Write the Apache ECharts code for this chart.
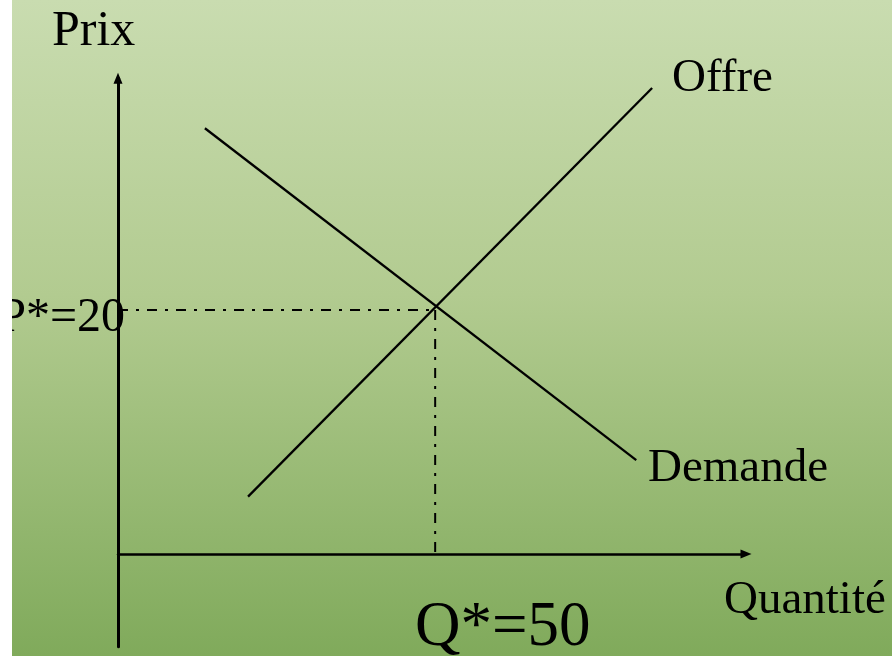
<!DOCTYPE html>
<html>
<head>
<meta charset="utf-8">
<script src="https://cdn.jsdelivr.net/npm/echarts@6/dist/echarts.min.js"></script>
<style>
html,body{margin:0;padding:0;background:#fff;}
#wrap{position:relative;width:892px;height:656px;overflow:hidden;}
#bg{position:absolute;left:12px;top:0;width:880px;height:656px;background:linear-gradient(to bottom,#c9dcb0 0%,#b2cb90 45%,#80aa5b 100%);}
#chart{position:absolute;left:0;top:0;width:892px;height:656px;}
#mask{position:absolute;left:0;top:0;width:12px;height:656px;background:#fff;z-index:10;}
</style>
</head>
<body>
<div id="wrap"><div id="bg"></div><div id="chart"></div><div id="mask"></div></div>
<script>
// Data
var supplyQ = [20.5, 84.2];
var supplyP = [4.7, 38.2];
var demandQ = [13.7, 81.7];
var demandP = [34.9, 7.7];
var eqQ = 50;
var eqP = 20;
var labelPrix = 'Prix';
var labelQuantite = 'Quantité';
var labelOffre = 'Offre';
var labelDemande = 'Demande';
var labelP = 'P*=' + eqP;
var labelQ = 'Q*=' + eqQ;

function zip(a, b) { return a.map(function (v, i) { return [v, b[i]]; }); }

var chart = echarts.init(document.getElementById('chart'), null, {renderer: 'canvas'});
var font = '"Liberation Serif", "Times New Roman", serif';
function txt(text, x, y, size, align) {
  return {type: 'text', x: x, y: y, z: 50,
    style: {text: text, fill: '#000', font: size + 'px ' + font, textAlign: align || 'left', textVerticalAlign: 'middle'}};
}
var dashStyle = {color: '#000', width: 2, type: [10, 8, 3, 8]};
chart.setOption({
  backgroundColor: 'transparent',
  animation: false,
  grid: {left: 118, right: 146, top: 78.2, bottom: 9.3},
  xAxis: {type: 'value', min: 0, max: 99,
    axisLine: {show: true, onZero: true, lineStyle: {color: '#000', width: 2.5}, symbol: ['none', 'triangle'], symbolSize: [9, 11]},
    axisTick: {show: false}, axisLabel: {show: false}, splitLine: {show: false}},
  yAxis: {type: 'value', min: -7.6, max: 39,
    axisLine: {show: true, lineStyle: {color: '#000', width: 3}, symbol: ['none', 'triangle'], symbolSize: [9, 11]},
    axisTick: {show: false}, axisLabel: {show: false}, splitLine: {show: false}},
  series: [
    {type: 'line', data: zip(supplyQ, supplyP), showSymbol: false, lineStyle: {color: '#000', width: 2.3}},
    {type: 'line', data: zip(demandQ, demandP), showSymbol: false, lineStyle: {color: '#000', width: 2.3}},
    {type: 'line', data: [[0, eqP], [eqQ, eqP]], showSymbol: false, lineStyle: dashStyle},
    {type: 'line', data: [[eqQ, eqP], [eqQ, 0]], showSymbol: false, lineStyle: dashStyle}
  ],
  graphic: [
    txt(labelPrix, 52, 32, 50),
    txt(labelOffre, 672, 79, 47),
    txt(labelDemande, 648, 469, 47),
    txt(labelQuantite, 724, 601, 47),
    txt(labelQ, 415, 628, 63),
    txt(labelP, 125, 318, 48, 'right')
  ]
});
</script>
</body>
</html>
